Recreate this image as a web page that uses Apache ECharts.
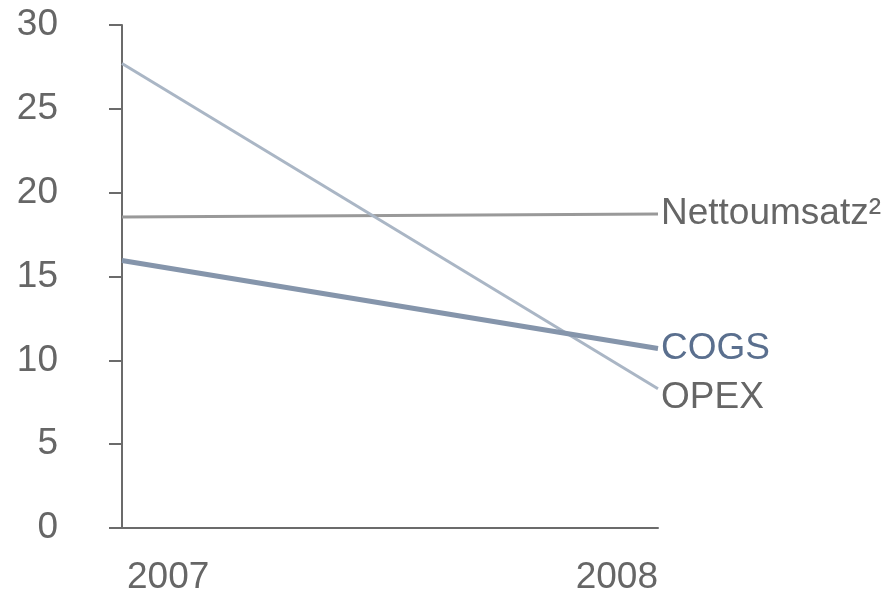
<!DOCTYPE html>
<html>
<head>
<meta charset="utf-8">
<script src="https://cdn.jsdelivr.net/npm/echarts@6/dist/echarts.min.js"></script>
<style>html,body{margin:0;padding:0;background:#fff}#c{width:885px;height:590px}</style>
</head>
<body>
<div id="c"></div>
<script>
var years = ['2007', '2008'];
var nettoumsatz = [18.55, 18.73];
var cogs = [15.95, 10.71];
var opex = [27.7, 8.3];
var yTicks = [0, 5, 10, 15, 20, 25, 30];

var chart = echarts.init(document.getElementById('c'), null, {renderer: 'canvas'});
var font = 'Liberation Sans, Arial, sans-serif';
chart.setOption({
  animation: false,
  grid: {left: 122, right: 227, top: 25, bottom: 62, containLabel: false, outerBoundsMode: 'none'},
  xAxis: {
    type: 'category', data: years, boundaryGap: false,
    axisLine: {lineStyle: {color: '#6b6b6b', width: 2}},
    axisTick: {show: false},
    axisLabel: {color: '#666666', fontSize: 37, fontFamily: font, margin: 31,
      alignMinLabel: 'left', alignMaxLabel: 'right', padding: [0, 0, 0, 5]},
    splitLine: {show: false}
  },
  yAxis: {
    type: 'value', min: yTicks[0], max: yTicks[yTicks.length - 1], interval: 5,
    axisLine: {show: true, lineStyle: {color: '#6b6b6b', width: 2}},
    axisTick: {show: true, length: 13, lineStyle: {color: '#6b6b6b', width: 2}},
    axisLabel: {color: '#666666', fontSize: 37, fontFamily: font, margin: 64},
    splitLine: {show: false}
  },
  series: [
    {name: 'Nettoumsatz²', type: 'line', data: nettoumsatz, symbol: 'none',
      lineStyle: {color: '#999999', width: 3},
      endLabel: {show: true, formatter: '{a}', color: '#666666', fontSize: 37, fontFamily: font, distance: 3}},
    {name: 'OPEX', type: 'line', data: opex, symbol: 'none',
      lineStyle: {color: '#aab6c5', width: 3},
      endLabel: {show: true, formatter: '{a}', color: '#666666', fontSize: 37, fontFamily: font, distance: 3, offset: [0, 9]}},
    {name: 'COGS', type: 'line', data: cogs, symbol: 'none',
      lineStyle: {color: '#8595ab', width: 5},
      endLabel: {show: true, formatter: '{a}', color: '#5a6f8e', fontSize: 37, fontFamily: font, distance: 3}}
  ]
});
</script>
</body>
</html>
